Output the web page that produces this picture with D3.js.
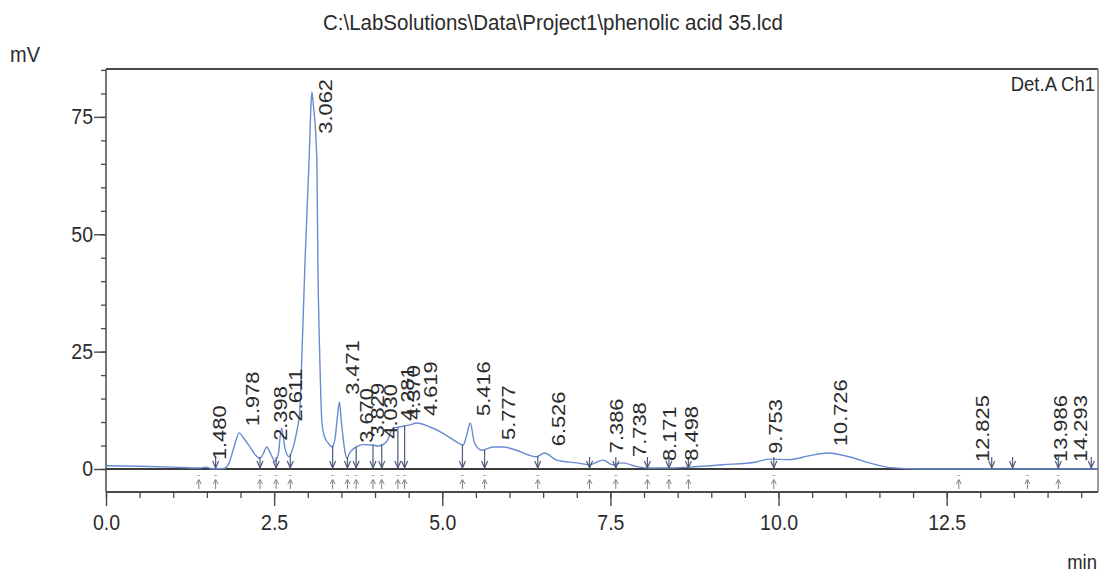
<!DOCTYPE html>
<html><head><meta charset="utf-8">
<script src="https://cdn.jsdelivr.net/npm/d3@7"></script>
<style>
html,body{margin:0;padding:0;background:#fff;}
svg{display:block;font-family:"Liberation Sans",Arial,Helvetica,sans-serif;}
</style></head><body>
<svg id="chart" width="1103" height="572"></svg>
<script>
// ---------- data ----------
const titleText = "C:\\LabSolutions\\Data\\Project1\\phenolic acid 35.lcd";
const yUnit = "mV";
const xUnit = "min";
const detectorLabel = "Det.A Ch1";

// chromatogram trace (time in min, signal in mV)
const times  = [0.00,0.50,1.00,1.40,1.48,1.60,1.75,1.82,1.88,1.93,1.98,2.05,2.14,2.22,2.29,2.34,2.39,2.45,2.51,2.56,2.61,2.66,2.72,2.78,2.84,2.88,2.91,2.96,3.02,3.05,3.062,3.08,3.135,3.15,3.18,3.21,3.25,3.30,3.36,3.40,3.44,3.471,3.50,3.55,3.58,3.63,3.72,3.83,3.97,4.05,4.17,4.27,4.37,4.52,4.62,4.81,5.00,5.21,5.31,5.36,5.416,5.48,5.59,5.75,5.90,6.10,6.40,6.52,6.70,7.00,7.19,7.39,7.53,7.68,7.89,8.04,8.38,8.68,9.17,9.67,9.87,10.16,10.45,10.74,11.05,11.35,11.65,12.14,13.00,14.75];
const signal = [0.7,0.6,0.4,0.2,0.4,0.0,0.1,1.0,3.5,6.0,7.7,6.5,4.7,3.0,2.3,3.3,4.7,3.2,1.7,3.0,8.7,4.5,2.6,4.5,8.3,12.0,23.0,44.5,66.0,78.0,80.3,78.0,66.0,44.5,23.0,10.0,6.8,5.6,4.7,6.0,11.0,14.3,10.0,4.0,2.3,3.6,4.7,5.2,5.1,4.9,5.8,8.7,9.0,9.4,9.8,9.0,7.7,5.8,5.1,7.0,9.8,5.5,4.0,4.7,4.7,4.0,2.6,3.4,1.9,1.3,0.9,1.9,0.9,1.3,0.5,0.2,0.2,0.4,0.9,1.5,2.1,2.0,2.8,3.4,2.6,1.3,0.3,0.0,0.0,0.0];

// integrated peaks: retention time labels
const peakTimes  = [1.480,1.978,2.398,2.611,3.062,3.471,3.670,3.829,4.030,4.281,4.370,4.619,5.416,5.777,6.526,7.386,7.738,8.171,8.498,9.753,10.726,12.825,13.986,14.293];
const peakLabels = ["1.480","1.978","2.398","2.611","3.062","3.471","3.670","3.829","4.030","4.281","4.370","4.619","5.416","5.777","6.526","7.386","7.738","8.171","8.498","9.753","10.726","12.825","13.986","14.293"];

// peak start/end marks (down arrows) and event marks (small up arrows below baseline)
const boundaryTimes = [1.63,2.29,2.53,2.74,3.37,3.59,3.72,3.97,4.10,4.34,4.44,5.30,5.63,6.42,7.19,7.58,8.05,8.37,8.66,9.93,13.17,13.48,14.16,14.65];
const eventTimes    = [1.38,1.63,2.29,2.53,2.74,3.37,3.59,3.72,3.97,4.10,4.34,4.44,5.30,5.63,6.42,7.19,7.58,8.05,8.37,8.66,9.93,12.68,13.70,14.16];

const xTicks = [0,2.5,5,7.5,10,12.5];
const xTickLabels = ["0.0","2.5","5.0","7.5","10.0","12.5"];
const xMinorTicks = [0,0.5,1,1.5,2,2.5,3,3.5,4,4.5,5,5.5,6,6.5,7,7.5,8,8.5,9,9.5,10,10.5,11,11.5,12,12.5,13,13.5,14,14.5];
const yTicks = [0,25,50,75];
const yTickLabels = ["0","25","50","75"];
const yMinorTicks = [0,5,10,15,20,25,30,35,40,45,50,55,60,65,70,75,80,85];

// ---------- drawing ----------
const svg = d3.select("#chart");
const W = 1103, H = 572;
const L = 106, R = 1098, T = 69, B = 492;
const SY = 1.12;   // vertical stretch of horizontal text
const SL = 1.15;   // stretch of rotated text along its length
const textCol = "#2b2b2b", frameCol = "#4a4a4a", traceCol = "#6a8bd2", arrowCol = "#4d5b78";

const x = d3.scaleLinear().domain([0, 14.75]).range([L, R]);
const y = d3.scaleLinear().domain([-4.9, 85.2]).range([B, T]);

function sigAt(t) {
  const i = d3.bisectLeft(times, t);
  if (i <= 0) return signal[0];
  if (i >= times.length) return signal[signal.length - 1];
  const t0 = times[i-1], t1 = times[i];
  const f = (t - t0) / (t1 - t0);
  return signal[i-1] + f * (signal[i] - signal[i-1]);
}

// title
svg.append("text")
  .attr("transform", `translate(553,30) scale(1,1.05)`)
  .attr("text-anchor", "middle").attr("font-size", 20.5).attr("fill", textCol)
  .text(titleText);

// unit labels
svg.append("text").attr("transform", `translate(10,62) scale(1,${SY})`)
  .attr("font-size", 20).attr("fill", textCol).text(yUnit);
svg.append("text").attr("transform", `translate(1097,569) scale(1,${SY})`)
  .attr("text-anchor", "end").attr("font-size", 18.5).attr("fill", textCol).text(xUnit);
svg.append("text").attr("transform", `translate(1095,91) scale(1,${SY})`)
  .attr("text-anchor", "end").attr("font-size", 18.5).attr("fill", textCol).text(detectorLabel);

// frame
svg.append("line").attr("x1", L).attr("x2", R).attr("y1", T).attr("y2", T)
  .attr("stroke", frameCol).attr("stroke-width", 2);
svg.append("line").attr("x1", R).attr("x2", R).attr("y1", T).attr("y2", B)
  .attr("stroke", "#777").attr("stroke-width", 1.5);
svg.append("line").attr("x1", L).attr("x2", L).attr("y1", T).attr("y2", B)
  .attr("stroke", frameCol).attr("stroke-width", 1.5);

// baseline at 0 mV
svg.append("line").attr("x1", L).attr("x2", R).attr("y1", y(0)).attr("y2", y(0))
  .attr("stroke", "#3d3d3d").attr("stroke-width", 1.8);

// y axis
const yMinor = svg.append("g").attr("transform", `translate(${L},0)`)
  .call(d3.axisLeft(y).tickValues(yMinorTicks).tickSize(5).tickFormat(""));
yMinor.select(".domain").remove();
yMinor.selectAll("line").attr("stroke", frameCol).attr("stroke-width", 1.3);

const yAx = svg.append("g").attr("transform", `translate(${L},0)`)
  .call(d3.axisLeft(y).tickValues(yTicks).tickSize(12).tickPadding(1)
        .tickFormat((d,i) => yTickLabels[i]));
yAx.select(".domain").remove();
yAx.selectAll("line").attr("stroke", frameCol).attr("stroke-width", 1.4);
yAx.selectAll("text").attr("font-size", 19.5).attr("fill", textCol)
  .attr("font-family", "Liberation Sans,Arial,sans-serif")
  .attr("transform", `scale(1,${SY})`);

// x axis
const xMinor = svg.append("g").attr("transform", `translate(0,${B})`)
  .call(d3.axisBottom(x).tickValues(xMinorTicks).tickSize(6).tickFormat(""));
xMinor.select(".domain").remove();
xMinor.selectAll("line").attr("stroke", frameCol).attr("stroke-width", 1.3);

const xAx = svg.append("g").attr("transform", `translate(0,${B})`)
  .call(d3.axisBottom(x).tickValues(xTicks).tickSize(14).tickPadding(8)
        .tickFormat((d,i) => xTickLabels[i]));
xAx.select(".domain").remove();
xAx.selectAll("line").attr("stroke", frameCol).attr("stroke-width", 1.4);
xAx.selectAll("text").attr("font-size", 19.5).attr("fill", textCol)
  .attr("font-family", "Liberation Sans,Arial,sans-serif")
  .attr("y", 20).attr("transform", `scale(1,${SY})`);

svg.append("line").attr("x1", L).attr("x2", R).attr("y1", B).attr("y2", B)
  .attr("stroke", frameCol).attr("stroke-width", 2);

// event marks below baseline (small up arrows)
const ev = svg.append("g").attr("stroke", "#808080").attr("stroke-width", 1).attr("fill", "none");
eventTimes.forEach(t => {
  const px = x(t);
  ev.append("line").attr("x1", px).attr("x2", px).attr("y1", 480).attr("y2", 489);
  ev.append("path").attr("d", `M${px-2.5},484 L${px},479.5 L${px+2.5},484`);
  ev.append("line").attr("x1", px-1.5).attr("x2", px+1.5).attr("y1", 475.5).attr("y2", 475.5).attr("stroke", "#aaa");
});

// trace
const line = d3.line().x((d,i) => x(times[i])).y((d,i) => y(signal[i])).curve(d3.curveMonotoneX);
svg.append("path").datum(signal).attr("d", line)
  .attr("fill", "none").attr("stroke", traceCol).attr("stroke-width", 1.4);

// peak boundary arrows
const ar = svg.append("g").attr("stroke", arrowCol).attr("stroke-width", 1.2).attr("fill", "none");
const y0 = y(0);
boundaryTimes.forEach(t => {
  const px = x(t);
  const yc = Math.min(y(sigAt(t)), y0 - 12);
  ar.append("line").attr("x1", px).attr("x2", px).attr("y1", yc).attr("y2", y0 - 1);
  ar.append("path").attr("d", `M${px-3},${y0-8} L${px},${y0-1} L${px+3},${y0-8}`);
});

// peak labels (rotated)
const lab = svg.append("g").attr("font-size", 19).attr("fill", textCol);
peakTimes.forEach((t, i) => {
  const px = x(t) + 20;
  const txt = lab.append("text").text(peakLabels[i]);
  const len = txt.node().getComputedTextLength() * SL;
  let yb = y(sigAt(t)) - 7;
  if (yb - len < T + 10) yb = T + 10 + len;
  txt.attr("transform", `translate(${px},${yb}) rotate(-90) scale(${SL},1)`);
});
</script>
</body></html>
